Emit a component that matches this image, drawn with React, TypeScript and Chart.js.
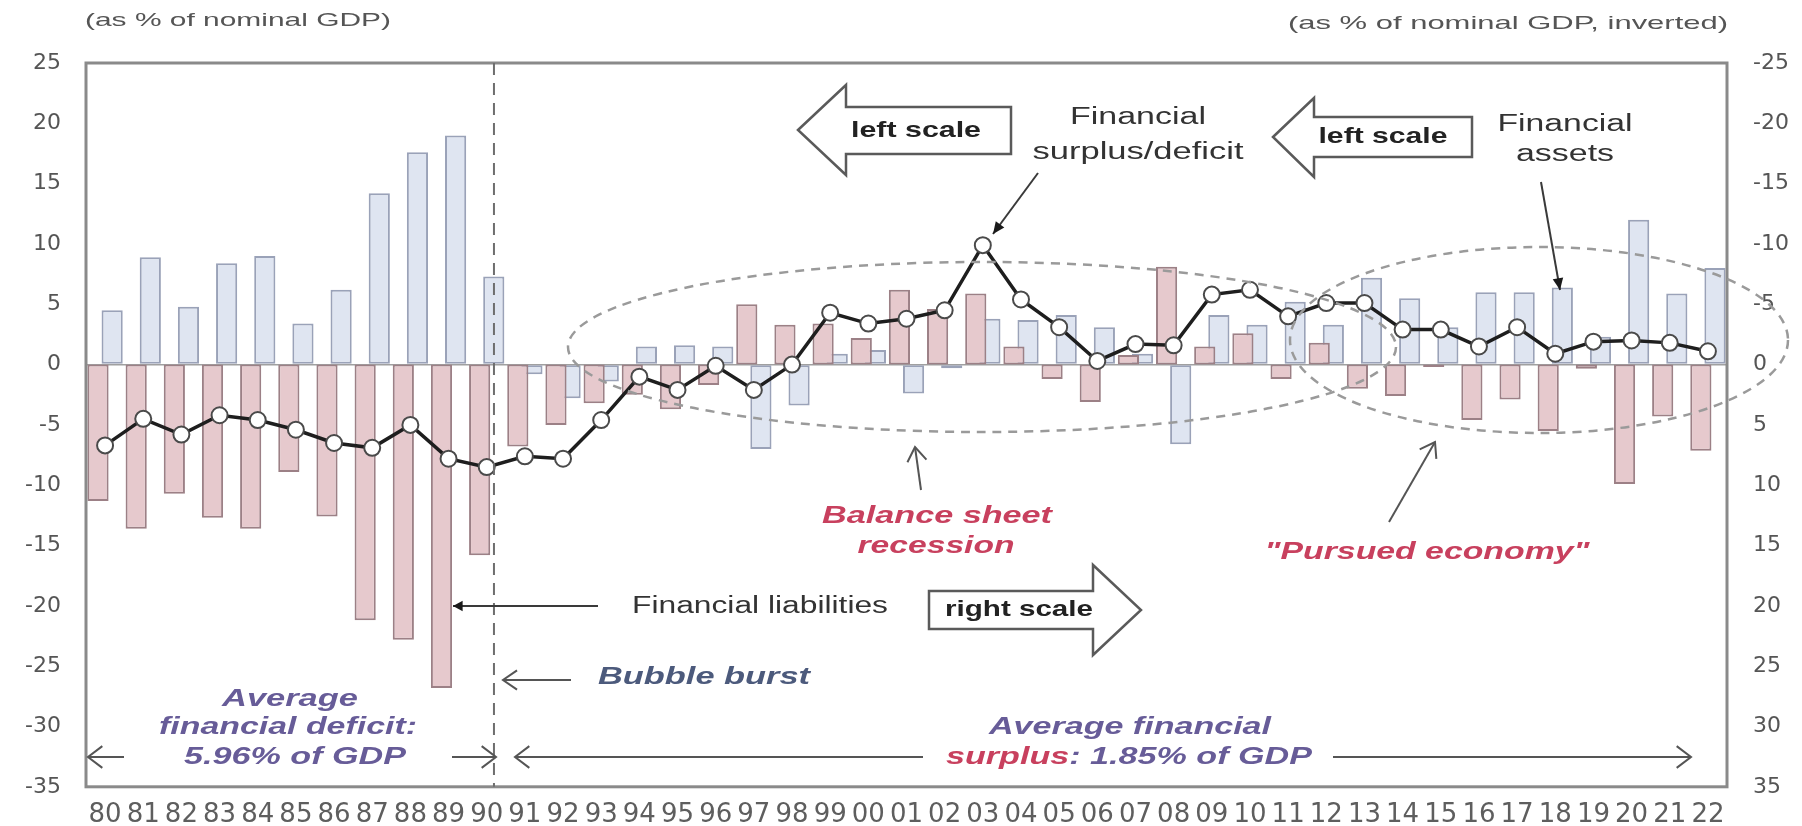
import React, { useEffect, useRef } from "react";
import { Chart, registerables } from "chart.js";

Chart.register(...registerables);

// ---------------- DATA ----------------
const years = [
  "80", "81", "82", "83", "84", "85", "86", "87", "88", "89",
  "90", "91", "92", "93", "94", "95", "96", "97", "98", "99",
  "00", "01", "02", "03", "04", "05", "06", "07", "08", "09",
  "10", "11", "12", "13", "14", "15", "16", "17", "18", "19",
  "20", "21", "22",
];

// Financial assets (left scale, % of nominal GDP)
const financialAssets = [
  4.5, 8.9, 4.8, 8.4, 9.0, 3.4, 6.2, 14.2, 17.6, 19.0,
  7.3, -0.8, -2.8, -1.4, 1.5, 1.6, 1.5, -7.0, -3.4, 0.9,
  1.2, -2.4, -0.3, 3.8, 3.7, 4.1, 3.1, 0.9, -6.6, 4.1,
  3.3, 5.2, 3.3, 7.2, 5.5, 3.1, 6.0, 6.0, 6.4, 2.3,
  12.0, 5.9, 8.0,
];

// Financial liabilities (right scale, inverted, % of nominal GDP)
const financialLiabilities = [
  11.3, 13.6, 10.7, 12.7, 13.6, 8.9, 12.6, 21.2, 22.8, 26.8,
  15.8, 6.8, 5.0, 3.2, 2.5, 3.7, 1.7, -5.0, -3.3, -3.4,
  -2.2, -6.2, -4.6, -5.9, -1.5, 1.2, 3.1, -0.8, -8.1, -1.5,
  -2.6, 1.2, -1.8, 2.0, 2.6, 0.2, 4.6, 2.9, 5.5, 0.35,
  9.9, 4.3, 7.15,
];

// Financial surplus / deficit (left scale, % of nominal GDP)
const financialSurplus = [
  -6.7, -4.5, -5.8, -4.2, -4.6, -5.4, -6.5, -6.9, -5.0, -7.8,
  -8.5, -7.6, -7.8, -4.6, -1.0, -2.1, -0.1, -2.1, 0.0, 4.3,
  3.4, 3.8, 4.5, 9.9, 5.4, 3.1, 0.3, 1.7, 1.6, 5.8,
  6.2, 4.0, 5.1, 5.1, 2.9, 2.9, 1.5, 3.1, 0.9, 1.9,
  2.0, 1.8, 1.1,
];

const leftAxisRange = [-35, 25];
const rightAxisRange = [-25, 35];
const tickStep = 5;

// ---------------- DRAWING HELPERS ----------------
const SANS = '"Liberation Sans", Arial, sans-serif';
const RED_TEXT = "#c8405e";
const PURPLE_TEXT = "#675c98";
const SLATE_TEXT = "#4c5a7c";

function fitText(
  ctx: CanvasRenderingContext2D,
  text: string,
  cx: number,
  cy: number,
  font: string,
  color: string,
  w: number
) {
  ctx.save();
  ctx.font = font;
  const m = ctx.measureText(text).width;
  const s = w / m;
  ctx.translate(cx, cy);
  ctx.scale(s, 1);
  ctx.fillStyle = color;
  ctx.textAlign = "center";
  ctx.textBaseline = "middle";
  ctx.fillText(text, 0, 0);
  ctx.restore();
}

function fitParts(
  ctx: CanvasRenderingContext2D,
  parts: [string, string][],
  x0: number,
  cy: number,
  font: string,
  w: number
) {
  ctx.save();
  ctx.font = font;
  const total = parts.reduce((acc, p) => acc + ctx.measureText(p[0]).width, 0);
  const s = w / total;
  ctx.translate(x0, cy);
  ctx.scale(s, 1);
  ctx.textAlign = "left";
  ctx.textBaseline = "middle";
  let x = 0;
  for (const [t, c] of parts) {
    ctx.fillStyle = c;
    ctx.fillText(t, x, 0);
    x += ctx.measureText(t).width;
  }
  ctx.restore();
}

function line(ctx: CanvasRenderingContext2D, x1: number, y1: number, x2: number, y2: number) {
  ctx.beginPath();
  ctx.moveTo(x1, y1);
  ctx.lineTo(x2, y2);
  ctx.stroke();
}

function openArrow(
  ctx: CanvasRenderingContext2D,
  x1: number, y1: number, x2: number, y2: number,
  len = 17, spread = 0.6
) {
  line(ctx, x1, y1, x2, y2);
  const a = Math.atan2(y2 - y1, x2 - x1);
  ctx.beginPath();
  ctx.moveTo(x2 - len * Math.cos(a - spread), y2 - len * Math.sin(a - spread));
  ctx.lineTo(x2, y2);
  ctx.lineTo(x2 - len * Math.cos(a + spread), y2 - len * Math.sin(a + spread));
  ctx.stroke();
}

function filledArrow(
  ctx: CanvasRenderingContext2D,
  x1: number, y1: number, x2: number, y2: number,
  len = 13, spread = 0.42
) {
  line(ctx, x1, y1, x2, y2);
  const a = Math.atan2(y2 - y1, x2 - x1);
  ctx.beginPath();
  ctx.moveTo(x2, y2);
  ctx.lineTo(x2 - len * Math.cos(a - spread), y2 - len * Math.sin(a - spread));
  ctx.lineTo(x2 - len * Math.cos(a + spread), y2 - len * Math.sin(a + spread));
  ctx.closePath();
  ctx.fill();
}

function blockArrow(ctx: CanvasRenderingContext2D, pts: number[][]) {
  ctx.beginPath();
  ctx.moveTo(pts[0][0], pts[0][1]);
  for (let i = 1; i < pts.length; i++) ctx.lineTo(pts[i][0], pts[i][1]);
  ctx.closePath();
  ctx.fillStyle = "#ffffff";
  ctx.fill();
  ctx.strokeStyle = "#5a5a5a";
  ctx.lineWidth = 2.5;
  ctx.stroke();
}

const annotationPlugin = {
  id: "annotations",
  afterDraw(chart: any) {
    const { ctx, chartArea: a, scales } = chart;
    const xs = scales.x;
    ctx.save();

    // frame
    ctx.setLineDash([]);
    ctx.strokeStyle = "#8a8a8a";
    ctx.lineWidth = 3;
    ctx.strokeRect(a.left, a.top, a.right - a.left, a.bottom - a.top);

    // bubble burst dashed vertical line (1990)
    const step = xs.getPixelForValue(1) - xs.getPixelForValue(0);
    const bx = xs.getPixelForValue(years.indexOf("90")) + step * 0.19;
    ctx.strokeStyle = "#6e6e6e";
    ctx.lineWidth = 2;
    ctx.setLineDash([12, 8]);
    line(ctx, bx, a.top, bx, a.bottom);

    // dashed ellipses
    ctx.strokeStyle = "#9a9a9a";
    ctx.lineWidth = 2.5;
    ctx.setLineDash([9, 7]);
    ctx.beginPath();
    ctx.ellipse(982, 347, 414, 85, 0, 0, Math.PI * 2);
    ctx.stroke();
    ctx.beginPath();
    ctx.ellipse(1539, 340, 249, 93, 0, 0, Math.PI * 2);
    ctx.stroke();
    ctx.setLineDash([]);

    // headers
    fitText(ctx, "(as % of nominal GDP)", 238, 21, `19px ${SANS}`, "#555555", 306);
    fitText(ctx, "(as % of nominal GDP, inverted)", 1508, 24, `19px ${SANS}`, "#555555", 440);

    // block arrows
    blockArrow(ctx, [[798, 130], [846, 85], [846, 107], [1011, 107], [1011, 154], [846, 154], [846, 175]]);
    fitText(ctx, "left scale", 916, 131, `bold 22px ${SANS}`, "#222222", 130);
    blockArrow(ctx, [[1273, 137], [1314, 98], [1314, 117], [1472, 117], [1472, 157], [1314, 157], [1314, 177]]);
    fitText(ctx, "left scale", 1383, 137, `bold 22px ${SANS}`, "#222222", 129);
    blockArrow(ctx, [[929, 591], [1093, 591], [1093, 565], [1141, 610], [1093, 655], [1093, 629], [929, 629]]);
    fitText(ctx, "right scale", 1019, 610, `bold 22px ${SANS}`, "#222222", 148);

    // labels
    const reg = `23px ${SANS}`;
    fitText(ctx, "Financial", 1138, 118, reg, "#333333", 136);
    fitText(ctx, "surplus/deficit", 1138, 153, reg, "#333333", 211);
    fitText(ctx, "Financial", 1565, 125, reg, "#333333", 135);
    fitText(ctx, "assets", 1565, 155, reg, "#333333", 98);
    fitText(ctx, "Financial liabilities", 760, 607, reg, "#333333", 256);

    // pointer arrows
    ctx.strokeStyle = "#3a3a3a";
    ctx.fillStyle = "#1a1a1a";
    ctx.lineWidth = 2;
    filledArrow(ctx, 1038, 173, 993, 234);
    filledArrow(ctx, 1541, 182, 1560, 290);
    filledArrow(ctx, 598, 606, 453, 606, 11, 0.5);
    ctx.strokeStyle = "#555555";
    openArrow(ctx, 571, 680, 503, 680);
    openArrow(ctx, 921, 490, 915, 447);
    openArrow(ctx, 1389, 522, 1435, 442);

    // average arrows
    ctx.strokeStyle = "#555555";
    ctx.lineWidth = 2;
    openArrow(ctx, 124, 757, 88, 757, 18, 0.65);
    openArrow(ctx, 452, 757, 496, 757, 18, 0.65);
    openArrow(ctx, 923, 757, 515, 757, 18, 0.65);
    openArrow(ctx, 1333, 757, 1691, 757, 18, 0.65);

    const bi = `italic bold 23px ${SANS}`;
    fitText(ctx, "Bubble burst", 704, 678, bi, SLATE_TEXT, 212);
    fitText(ctx, "Balance sheet", 937, 517, bi, RED_TEXT, 230);
    fitText(ctx, "recession", 936, 547, bi, RED_TEXT, 157);
    fitText(ctx, "\"Pursued economy\"", 1427, 553, bi, RED_TEXT, 325);
    fitText(ctx, "Average", 290, 700, bi, PURPLE_TEXT, 136);
    fitText(ctx, "financial deficit:", 288, 728, bi, PURPLE_TEXT, 258);
    fitText(ctx, "5.96% of GDP", 295, 758, bi, PURPLE_TEXT, 222);
    fitText(ctx, "Average financial", 1130, 728, bi, PURPLE_TEXT, 282);
    fitParts(ctx, [["surplus", RED_TEXT], [": 1.85% of GDP", PURPLE_TEXT]], 946, 758, bi, 366);

    ctx.restore();
  },
};

// ---------------- COMPONENT ----------------
export default function App() {
  const ref = useRef<HTMLCanvasElement | null>(null);

  useEffect(() => {
    if (!ref.current) return;
    const tickFont = { family: '"DejaVu Sans", sans-serif', size: 22 };
    const chart = new Chart(ref.current, {
      type: "bar",
      data: {
        labels: years,
        datasets: [
          {
            type: "line",
            label: "Financial surplus/deficit",
            data: financialSurplus,
            yAxisID: "y",
            order: 0,
            borderColor: "#1e1e1e",
            borderWidth: 3.5,
            pointRadius: 8,
            pointBackgroundColor: "#ffffff",
            pointBorderColor: "#4a4a4a",
            pointBorderWidth: 2,
            tension: 0,
          } as any,
          {
            type: "bar",
            label: "Financial liabilities",
            data: financialLiabilities,
            yAxisID: "y2",
            order: 1,
            backgroundColor: "#e6c9cd",
            borderColor: "#9c8086",
            borderWidth: 2,
            borderSkipped: false,
            categoryPercentage: 0.74,
            barPercentage: 1.5,
          } as any,
          {
            type: "bar",
            label: "Financial assets",
            data: financialAssets,
            yAxisID: "y",
            order: 2,
            backgroundColor: "#dfe5f1",
            borderColor: "#9aa2b8",
            borderWidth: 2,
            borderSkipped: false,
            categoryPercentage: 0.74,
            barPercentage: 1.5,
          } as any,
        ],
      },
      options: {
        responsive: false,
        animation: false,
        layout: { padding: { top: 63, left: 0, right: 0, bottom: 0 } },
        plugins: {
          legend: { display: false },
          tooltip: { enabled: false },
          title: { display: false },
        },
        scales: {
          x: {
            type: "category",
            grid: { display: false, drawTicks: false },
            border: { display: false },
            ticks: {
              autoSkip: false,
              maxRotation: 0,
              minRotation: 0,
              padding: 13,
              color: "#5e5e5e",
              font: { family: '"DejaVu Sans", sans-serif', size: 26 },
            },
            afterFit: (s: any) => {
              s.height = 39;
            },
          },
          y: {
            position: "left",
            min: leftAxisRange[0],
            max: leftAxisRange[1],
            border: { display: false },
            grid: {
              drawTicks: false,
              lineWidth: 1.5,
              color: (c: any) => (c.tick && c.tick.value === 0 ? "#a0a0a0" : "rgba(0,0,0,0)"),
            },
            ticks: { stepSize: tickStep, padding: 25, color: "#555555", font: tickFont },
            afterFit: (s: any) => {
              s.width = 86;
            },
          },
          y2: {
            position: "right",
            min: rightAxisRange[0],
            max: rightAxisRange[1],
            reverse: true,
            border: { display: false },
            grid: { display: false, drawTicks: false, drawOnChartArea: false },
            ticks: { stepSize: tickStep, padding: 26, color: "#555555", font: tickFont },
            afterFit: (s: any) => {
              s.width = 75;
            },
          },
        },
      } as any,
      plugins: [annotationPlugin],
    });
    return () => chart.destroy();
  }, []);

  return (
    <div style={{ position: "absolute", left: 0, top: 0, width: 1802, height: 826, background: "#ffffff" }}>
      <canvas ref={ref} width={1802} height={826} style={{ display: "block" }} />
    </div>
  );
}
